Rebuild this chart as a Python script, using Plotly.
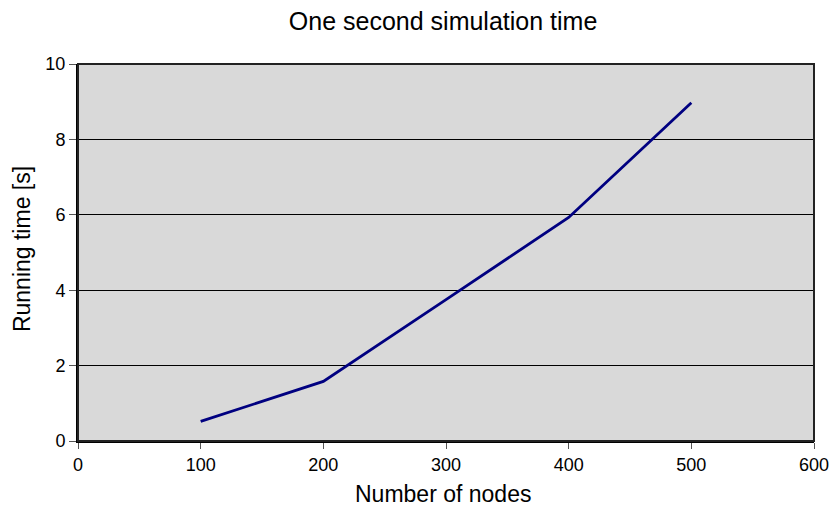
import plotly.graph_objects as go

nodes = [100, 200, 300, 400, 500]
running_time = [0.52, 1.58, 3.75, 5.93, 8.97]

x_ticks = [0, 100, 200, 300, 400, 500, 600]
y_ticks = [0, 2, 4, 6, 8, 10]

title_text = "One second simulation time"
x_title = "Number of nodes"
y_title = "Running time [s]"

fig = go.Figure()
fig.add_trace(go.Scatter(x=nodes, y=running_time, mode="lines",
                         line=dict(color="#000080", width=2.8), showlegend=False))

font_family = "Liberation Sans, Arial, sans-serif"
fig.update_layout(
    width=829, height=509,
    margin=dict(l=78, r=15, t=64, b=68, autoexpand=False),
    paper_bgcolor="white",
    plot_bgcolor="#d9d9d9",
    font=dict(family=font_family, color="black"),
    title=dict(text=title_text, x=0.496, xanchor="center", xref="paper",
               yref="container", y=1 - 21 / 509, yanchor="middle",
               font=dict(size=25, color="black")),
    shapes=[dict(type="rect", xref="paper", yref="paper", x0=0, y0=0, x1=1, y1=1,
                 line=dict(color="#222222", width=2), layer="above")],
    annotations=[
        dict(text=x_title, xref="paper", yref="paper", x=0.496, y=-0.1406,
             xanchor="center", yanchor="middle", showarrow=False,
             font=dict(size=23, color="black")),
        dict(text=y_title, xref="paper", yref="paper", x=-0.0761, y=0.509,
             xanchor="center", yanchor="middle", showarrow=False, textangle=-90,
             font=dict(size=23, color="black")),
    ],
)
fig.update_xaxes(range=[0, 600], tickvals=x_ticks, showgrid=False, zeroline=False,
                 automargin=False, ticklabeloverflow="allow",
                 showline=True, linecolor="black", linewidth=2,
                 ticks="outside", ticklen=6, tickcolor="#555555", tickwidth=1,
                 tickfont=dict(size=18))
fig.update_yaxes(range=[0, 10], tickvals=y_ticks, showgrid=True, gridcolor="black",
                 gridwidth=1, zeroline=False, automargin=False,
                 ticklabeloverflow="allow",
                 showline=True, linecolor="black", linewidth=2,
                 ticks="outside", ticklen=7, tickcolor="#555555", tickwidth=1,
                 tickfont=dict(size=18))

fig.write_html("out.html")
